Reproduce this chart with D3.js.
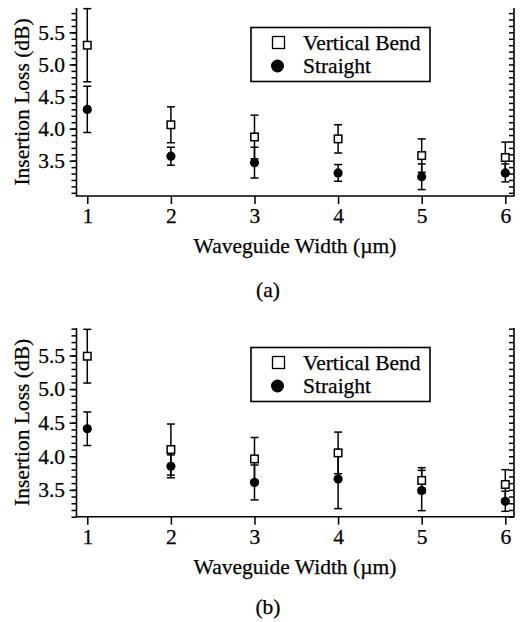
<!DOCTYPE html>
<html lang="en">
<head>
    <meta charset="UTF-8">
    <title>Insertion Loss vs Waveguide Width</title>
    <script src="https://d3js.org/d3.v7.min.js"></script>
    <style>
        body { margin: 0; background: #fff; }
        svg { display: block; }
        text { font-family: "Liberation Serif", "Times New Roman", serif; fill: #000; stroke: #000; stroke-width: 0.25px; }
    </style>
</head>
<body>
    <svg id="chart" width="521" height="622"></svg>

    <script>
        // data
        const widths = [1, 2, 3, 4, 5, 6];

        const bendA = [5.30, 4.06, 3.87, 3.84, 3.58, 3.55];
        const bendAErr = [0.57, 0.28, 0.34, 0.22, 0.26, 0.24];
        const straightA = [4.30, 3.57, 3.47, 3.31, 3.25, 3.31];
        const straightAErr = [0.36, 0.14, 0.24, 0.13, 0.20, 0.14];

        const bendB = [5.49, 4.10, 3.96, 4.05, 3.64, 3.58];
        const bendBErr = [0.40, 0.38, 0.32, 0.31, 0.19, 0.22];
        const straightB = [4.41, 3.85, 3.61, 3.66, 3.49, 3.33];
        const straightBErr = [0.25, 0.17, 0.26, 0.44, 0.30, 0.15];

        const majorTicks = [3.5, 4.0, 4.5, 5.0, 5.5];
        const legendLabels = ["Vertical Bend", "Straight"];

        const fs = 21.5;
        const svg = d3.select("#chart");
        const left = 76.5, right = 514;
        const x = d3.scaleLinear().domain([0.871, 6.104]).range([left, right]);

        function panel(cfg) {
            const y = d3.scaleLinear().domain(cfg.yDomain).range([cfg.bottom, cfg.top]);
            const g = svg.append("g");
            const minor = d3.range(Math.ceil(cfg.yDomain[0] * 10), Math.floor(cfg.yDomain[1] * 10) + 1).map(d => d / 10);

            // left axis: minor + major ticks
            g.append("g").attr("transform", `translate(${left},0)`)
                .call(d3.axisLeft(y).tickValues(minor).tickSize(5).tickFormat(""))
                .call(a => a.select(".domain").remove());
            g.append("g").attr("transform", `translate(${left},0)`)
                .call(d3.axisLeft(y).tickValues(majorTicks).tickSize(7).tickPadding(4.5).tickFormat(d3.format(".1f")))
                .call(a => a.select(".domain").remove())
                .call(a => a.selectAll("text").attr("font-size", fs));

            // right mirror axis, ticks pointing inward
            g.append("g").attr("transform", `translate(${right},0)`)
                .call(d3.axisLeft(y).tickValues(minor).tickSize(5).tickFormat(""))
                .call(a => a.select(".domain").remove());

            // bottom axis
            g.append("g").attr("transform", `translate(0,${cfg.bottom})`)
                .call(d3.axisBottom(x).tickValues(widths).tickSize(8).tickPadding(4).tickFormat(d3.format("d")))
                .call(a => a.select(".domain").remove())
                .call(a => a.selectAll("text").attr("font-size", fs));

            g.selectAll(".tick line").attr("stroke", "#000").attr("stroke-width", 1.5);
            g.selectAll(".tick text").attr("font-family", null);

            // spines
            g.append("path")
                .attr("d", `M${left},${cfg.top}V${cfg.bottom}H${right}V${cfg.top}`)
                .attr("fill", "none").attr("stroke", "#000").attr("stroke-width", 1.6);

            // error bars
            const series = [
                { vals: cfg.bend, err: cfg.bendErr },
                { vals: cfg.straight, err: cfg.straightErr }
            ];
            series.forEach(s => {
                const eb = g.append("g").selectAll("g").data(widths).enter().append("g");
                eb.append("line")
                    .attr("x1", d => x(d)).attr("x2", d => x(d))
                    .attr("y1", (d, i) => y(s.vals[i] - s.err[i]))
                    .attr("y2", (d, i) => y(s.vals[i] + s.err[i]));
                eb.append("line")
                    .attr("x1", d => x(d) - 4).attr("x2", d => x(d) + 4)
                    .attr("y1", (d, i) => y(s.vals[i] + s.err[i]))
                    .attr("y2", (d, i) => y(s.vals[i] + s.err[i]));
                eb.append("line")
                    .attr("x1", d => x(d) - 4).attr("x2", d => x(d) + 4)
                    .attr("y1", (d, i) => y(s.vals[i] - s.err[i]))
                    .attr("y2", (d, i) => y(s.vals[i] - s.err[i]));
                eb.selectAll("line").attr("stroke", "#000").attr("stroke-width", 1.5);
            });

            // markers
            g.selectAll("circle.straight").data(widths).enter().append("circle")
                .attr("cx", d => x(d)).attr("cy", (d, i) => y(cfg.straight[i]))
                .attr("r", 4.6).attr("fill", "#000");
            g.selectAll("rect.bend").data(widths).enter().append("rect")
                .attr("x", d => x(d) - 3.75).attr("y", (d, i) => y(cfg.bend[i]) - 3.75)
                .attr("width", 7.5).attr("height", 7.5)
                .attr("fill", "#fff").attr("stroke", "#000").attr("stroke-width", 1.5);

            // axis titles
            g.append("text")
                .attr("transform", `translate(29,${(cfg.top + cfg.bottom) / 2}) rotate(-90)`)
                .attr("text-anchor", "middle").attr("font-size", fs)
                .text("Insertion Loss (dB)");
            g.append("text")
                .attr("x", 295).attr("y", cfg.bottom + 57)
                .attr("text-anchor", "middle").attr("font-size", fs)
                .text("Waveguide Width (\u00b5m)");
            g.append("text")
                .attr("x", 268).attr("y", cfg.caption)
                .attr("text-anchor", "middle").attr("font-size", fs)
                .text(cfg.label);

            // legend
            const lt = cfg.top + 19.5;
            g.append("rect").attr("x", 251).attr("y", lt).attr("width", 179).attr("height", 54)
                .attr("fill", "#fff").attr("stroke", "#000").attr("stroke-width", 1.6);
            g.append("rect").attr("x", 272.5).attr("y", lt + 9).attr("width", 12).attr("height", 12)
                .attr("fill", "#fff").attr("stroke", "#000").attr("stroke-width", 1.3);
            g.append("circle").attr("cx", 277.5).attr("cy", lt + 38.5).attr("r", 6.5).attr("fill", "#000");
            g.append("text").attr("x", 303).attr("y", lt + 22).attr("font-size", fs).text(legendLabels[0]);
            g.append("text").attr("x", 303).attr("y", lt + 45).attr("font-size", fs).text(legendLabels[1]);
        }

        panel({ top: 8, bottom: 196, yDomain: [2.95, 5.88], caption: 297, label: "(a)",
                bend: bendA, bendErr: bendAErr, straight: straightA, straightErr: straightAErr });
        panel({ top: 328, bottom: 516.7, yDomain: [3.10, 5.91], caption: 614, label: "(b)",
                bend: bendB, bendErr: bendBErr, straight: straightB, straightErr: straightBErr });
    </script>
</body>
</html>
